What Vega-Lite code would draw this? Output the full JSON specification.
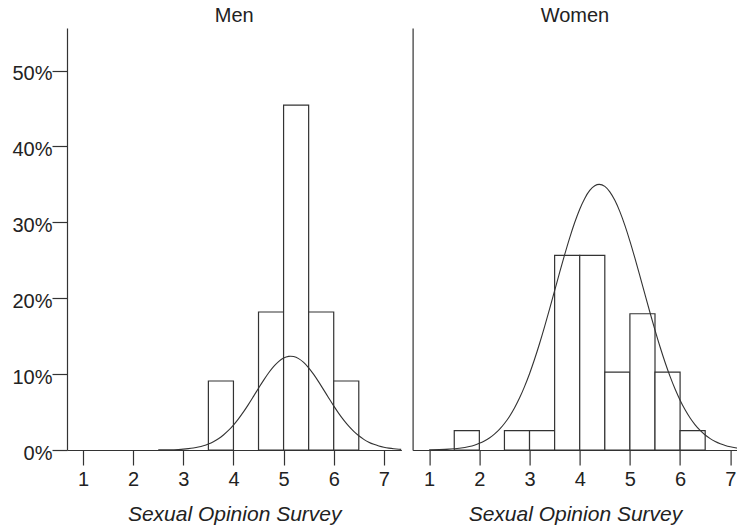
{
  "$schema": "https://vega.github.io/schema/vega-lite/v6.json",
  "padding": {"left": 0, "top": 6, "right": 0, "bottom": 5},
  "background": "white",
  "spacing": 10.6,
  "config": {
    "view": {"stroke": null},
    "font": "Liberation Sans",
    "axis": {"grid": false, "domainColor": "#333", "tickColor": "#333", "labelColor": "#222", "titleColor": "#222", "labelFont": "Liberation Sans", "titleFont": "Liberation Sans", "domainWidth": 1.2, "tickWidth": 1.2},
    "title": {"fontSize": 20, "fontWeight": "normal", "font": "Liberation Sans", "color": "#222", "offset": 2, "anchor": "middle"}
  },
  "datasets": {
    "bars": [
      {"sex": "Men", "lo": 3.5, "hi": 4.0, "pct": 9.09},
      {"sex": "Men", "lo": 4.5, "hi": 5.0, "pct": 18.18},
      {"sex": "Men", "lo": 5.0, "hi": 5.5, "pct": 45.45},
      {"sex": "Men", "lo": 5.5, "hi": 6.0, "pct": 18.18},
      {"sex": "Men", "lo": 6.0, "hi": 6.5, "pct": 9.09},
      {"sex": "Women", "lo": 1.5, "hi": 2.0, "pct": 2.56},
      {"sex": "Women", "lo": 2.5, "hi": 3.0, "pct": 2.56},
      {"sex": "Women", "lo": 3.0, "hi": 3.5, "pct": 2.56},
      {"sex": "Women", "lo": 3.5, "hi": 4.0, "pct": 25.64},
      {"sex": "Women", "lo": 4.0, "hi": 4.5, "pct": 25.64},
      {"sex": "Women", "lo": 4.5, "hi": 5.0, "pct": 10.26},
      {"sex": "Women", "lo": 5.0, "hi": 5.5, "pct": 17.95},
      {"sex": "Women", "lo": 5.5, "hi": 6.0, "pct": 10.26},
      {"sex": "Women", "lo": 6.0, "hi": 6.5, "pct": 2.56}
    ],
    "curve": [
      {"sex": "Men", "x": 2.5, "pct": 0.01},
      {"sex": "Men", "x": 2.7, "pct": 0.028},
      {"sex": "Men", "x": 2.9, "pct": 0.074},
      {"sex": "Men", "x": 3.0, "pct": 0.116},
      {"sex": "Men", "x": 3.1, "pct": 0.177},
      {"sex": "Men", "x": 3.2, "pct": 0.266},
      {"sex": "Men", "x": 3.3, "pct": 0.39},
      {"sex": "Men", "x": 3.4, "pct": 0.563},
      {"sex": "Men", "x": 3.5, "pct": 0.795},
      {"sex": "Men", "x": 3.6, "pct": 1.099},
      {"sex": "Men", "x": 3.7, "pct": 1.49},
      {"sex": "Men", "x": 3.8, "pct": 1.979},
      {"sex": "Men", "x": 3.9, "pct": 2.575},
      {"sex": "Men", "x": 4.0, "pct": 3.282},
      {"sex": "Men", "x": 4.1, "pct": 4.099},
      {"sex": "Men", "x": 4.2, "pct": 5.017},
      {"sex": "Men", "x": 4.3, "pct": 6.017},
      {"sex": "Men", "x": 4.4, "pct": 7.069},
      {"sex": "Men", "x": 4.5, "pct": 8.138},
      {"sex": "Men", "x": 4.6, "pct": 9.179},
      {"sex": "Men", "x": 4.7, "pct": 10.144},
      {"sex": "Men", "x": 4.8, "pct": 10.984},
      {"sex": "Men", "x": 4.9, "pct": 11.654},
      {"sex": "Men", "x": 5.0, "pct": 12.115},
      {"sex": "Men", "x": 5.1, "pct": 12.34},
      {"sex": "Men", "x": 5.14, "pct": 12.36},
      {"sex": "Men", "x": 5.2, "pct": 12.315},
      {"sex": "Men", "x": 5.3, "pct": 12.041},
      {"sex": "Men", "x": 5.4, "pct": 11.536},
      {"sex": "Men", "x": 5.5, "pct": 10.829},
      {"sex": "Men", "x": 5.6, "pct": 9.96},
      {"sex": "Men", "x": 5.7, "pct": 8.975},
      {"sex": "Men", "x": 5.8, "pct": 7.924},
      {"sex": "Men", "x": 5.9, "pct": 6.856},
      {"sex": "Men", "x": 6.0, "pct": 5.812},
      {"sex": "Men", "x": 6.1, "pct": 4.826},
      {"sex": "Men", "x": 6.2, "pct": 3.928},
      {"sex": "Men", "x": 6.3, "pct": 3.131},
      {"sex": "Men", "x": 6.4, "pct": 2.446},
      {"sex": "Men", "x": 6.5, "pct": 1.873},
      {"sex": "Men", "x": 6.6, "pct": 1.404},
      {"sex": "Men", "x": 6.7, "pct": 1.032},
      {"sex": "Men", "x": 6.8, "pct": 0.743},
      {"sex": "Men", "x": 6.9, "pct": 0.524},
      {"sex": "Men", "x": 7.0, "pct": 0.362},
      {"sex": "Men", "x": 7.1, "pct": 0.245},
      {"sex": "Men", "x": 7.2, "pct": 0.163},
      {"sex": "Men", "x": 7.3, "pct": 0.106},
      {"sex": "Men", "x": 7.35, "pct": 0.087},
      {"sex": "Women", "x": 1.0, "pct": 0.021},
      {"sex": "Women", "x": 1.2, "pct": 0.049},
      {"sex": "Women", "x": 1.4, "pct": 0.109},
      {"sex": "Women", "x": 1.6, "pct": 0.23},
      {"sex": "Women", "x": 1.8, "pct": 0.46},
      {"sex": "Women", "x": 1.9, "pct": 0.639},
      {"sex": "Women", "x": 2.0, "pct": 0.876},
      {"sex": "Women", "x": 2.1, "pct": 1.185},
      {"sex": "Women", "x": 2.2, "pct": 1.581},
      {"sex": "Women", "x": 2.3, "pct": 2.085},
      {"sex": "Women", "x": 2.4, "pct": 2.713},
      {"sex": "Women", "x": 2.5, "pct": 3.488},
      {"sex": "Women", "x": 2.6, "pct": 4.421},
      {"sex": "Women", "x": 2.7, "pct": 5.537},
      {"sex": "Women", "x": 2.8, "pct": 6.843},
      {"sex": "Women", "x": 2.9, "pct": 8.351},
      {"sex": "Women", "x": 3.0, "pct": 10.052},
      {"sex": "Women", "x": 3.1, "pct": 11.953},
      {"sex": "Women", "x": 3.2, "pct": 14.028},
      {"sex": "Women", "x": 3.3, "pct": 16.254},
      {"sex": "Women", "x": 3.4, "pct": 18.589},
      {"sex": "Women", "x": 3.5, "pct": 20.99},
      {"sex": "Women", "x": 3.6, "pct": 23.394},
      {"sex": "Women", "x": 3.7, "pct": 25.739},
      {"sex": "Women", "x": 3.8, "pct": 27.955},
      {"sex": "Women", "x": 3.9, "pct": 29.974},
      {"sex": "Women", "x": 4.0, "pct": 31.728},
      {"sex": "Women", "x": 4.1, "pct": 33.149},
      {"sex": "Women", "x": 4.2, "pct": 34.195},
      {"sex": "Women", "x": 4.3, "pct": 34.818},
      {"sex": "Women", "x": 4.39, "pct": 35.0},
      {"sex": "Women", "x": 4.5, "pct": 34.727},
      {"sex": "Women", "x": 4.6, "pct": 34.017},
      {"sex": "Women", "x": 4.7, "pct": 32.893},
      {"sex": "Women", "x": 4.8, "pct": 31.402},
      {"sex": "Women", "x": 4.9, "pct": 29.589},
      {"sex": "Women", "x": 5.0, "pct": 27.524},
      {"sex": "Women", "x": 5.1, "pct": 25.274},
      {"sex": "Women", "x": 5.2, "pct": 22.915},
      {"sex": "Women", "x": 5.3, "pct": 20.503},
      {"sex": "Women", "x": 5.4, "pct": 18.116},
      {"sex": "Women", "x": 5.5, "pct": 15.799},
      {"sex": "Women", "x": 5.6, "pct": 13.601},
      {"sex": "Women", "x": 5.7, "pct": 11.557},
      {"sex": "Women", "x": 5.8, "pct": 9.695},
      {"sex": "Women", "x": 5.9, "pct": 8.029},
      {"sex": "Women", "x": 6.0, "pct": 6.566},
      {"sex": "Women", "x": 6.1, "pct": 5.299},
      {"sex": "Women", "x": 6.2, "pct": 4.221},
      {"sex": "Women", "x": 6.3, "pct": 3.322},
      {"sex": "Women", "x": 6.4, "pct": 2.575},
      {"sex": "Women", "x": 6.5, "pct": 1.974},
      {"sex": "Women", "x": 6.6, "pct": 1.495},
      {"sex": "Women", "x": 6.7, "pct": 1.117},
      {"sex": "Women", "x": 6.8, "pct": 0.823},
      {"sex": "Women", "x": 6.9, "pct": 0.599},
      {"sex": "Women", "x": 7.0, "pct": 0.431},
      {"sex": "Women", "x": 7.1, "pct": 0.305},
      {"sex": "Women", "x": 7.2, "pct": 0.214},
      {"sex": "Women", "x": 7.3, "pct": 0.148}
    ]
  },
  "hconcat": [
    {
      "title": {"text": "Men"},
      "width": 334.4,
      "height": 422,
      "layer": [
        {
          "data": {"name": "bars"},
          "transform": [{"filter": "datum.sex == 'Men'"}],
          "mark": {"type": "rect", "fill": "white", "stroke": "#333", "strokeWidth": 1.2},
          "encoding": {
            "x": {"field": "lo", "type": "quantitative", "title": "Sexual Opinion Survey",
              "scale": {"domain": [0.68, 7.35], "nice": false, "zero": false},
              "axis": {"values": [1, 2, 3, 4, 5, 6, 7], "tickSize": 15, "labelPadding": 4, "labelFontSize": 20, "labelAngle": 0, "titleFontSize": 21, "titleFontStyle": "italic", "titleFontWeight": "normal", "titlePadding": 14}},
            "x2": {"field": "hi"},
            "y": {"field": "pct", "type": "quantitative", "title": null,
              "scale": {"domain": [0, 55.6], "nice": false},
              "axis": {"values": [0, 10, 20, 30, 40, 50], "labelExpr": "datum.value + '%'", "tickSize": 15, "labelPadding": 0, "labelFontSize": 20, "labelOffset": 3, "minExtent": 67, "maxExtent": 67}},
            "y2": {"datum": 0}
          }
        },
        {
          "data": {"name": "curve"},
          "transform": [{"filter": "datum.sex == 'Men'"}],
          "mark": {"type": "line", "color": "#333", "strokeWidth": 1.1, "clip": true, "interpolate": "monotone"},
          "encoding": {
            "x": {"field": "x", "type": "quantitative", "title": "Sexual Opinion Survey"},
            "y": {"field": "pct", "type": "quantitative", "title": null}
          }
        }
      ]
    },
    {
      "title": {"text": "Women"},
      "width": 324.7,
      "height": 422,
      "layer": [
        {
          "data": {"name": "bars"},
          "transform": [{"filter": "datum.sex == 'Women'"}],
          "mark": {"type": "rect", "fill": "white", "stroke": "#333", "strokeWidth": 1.2},
          "encoding": {
            "x": {"field": "lo", "type": "quantitative", "title": "Sexual Opinion Survey",
              "scale": {"domain": [0.67, 7.14], "nice": false, "zero": false},
              "axis": {"values": [1, 2, 3, 4, 5, 6, 7], "tickSize": 15, "labelPadding": 4, "labelFontSize": 20, "labelAngle": 0, "titleFontSize": 21, "titleFontStyle": "italic", "titleFontWeight": "normal", "titlePadding": 14}},
            "x2": {"field": "hi"},
            "y": {"field": "pct", "type": "quantitative", "title": null,
              "scale": {"domain": [0, 55.6], "nice": false},
              "axis": {"labels": false, "ticks": false, "minExtent": 0, "maxExtent": 0}},
            "y2": {"datum": 0}
          }
        },
        {
          "data": {"name": "curve"},
          "transform": [{"filter": "datum.sex == 'Women'"}],
          "mark": {"type": "line", "color": "#333", "strokeWidth": 1.1, "clip": true, "interpolate": "monotone"},
          "encoding": {
            "x": {"field": "x", "type": "quantitative", "title": "Sexual Opinion Survey"},
            "y": {"field": "pct", "type": "quantitative", "title": null}
          }
        }
      ]
    }
  ]
}
